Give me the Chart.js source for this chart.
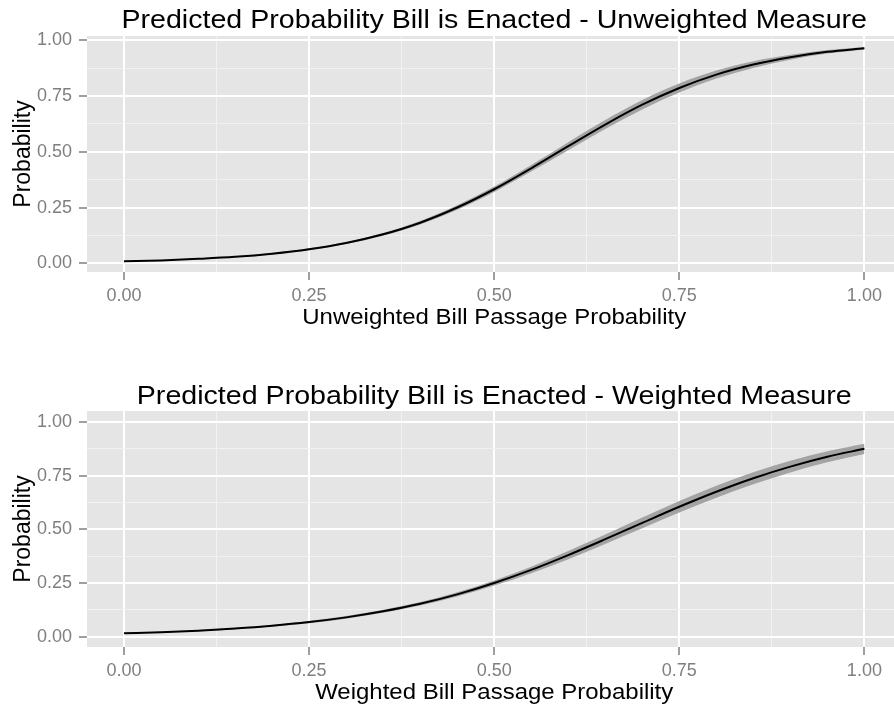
<!DOCTYPE html>
<html lang="en">
<head>
  <meta charset="UTF-8" />
  <title>Predicted Probability Bill is Enacted</title>
  <script src="https://cdn.jsdelivr.net/npm/chart.js@4"></script>
  <style>
    body { margin: 0; background: #fff; width: 894px; height: 708px; overflow: hidden; position: relative; }
    .panel { position: absolute; left: 0; width: 894px; height: 354px; }
  </style>
</head>
<body>
  <div class="panel" style="top:0"><canvas id="unweighted" width="894" height="354"></canvas></div>
  <div class="panel" style="top:354px"><canvas id="weighted" width="894" height="354"></canvas></div>

  <script>
    // bill passage probability (x) at which the fitted curves were read
    const xs = [0, 0.05, 0.1, 0.15, 0.2, 0.25, 0.3, 0.35, 0.4, 0.45, 0.5,
                0.55, 0.6, 0.65, 0.7, 0.75, 0.8, 0.85, 0.9, 0.95, 1];

    // unweighted measure: fit + confidence band
    const unweightedFit  = [0.009, 0.013, 0.020, 0.029, 0.043, 0.063, 0.091, 0.130, 0.182, 0.250, 0.332,
                            0.426, 0.525, 0.622, 0.711, 0.786, 0.846, 0.891, 0.924, 0.948, 0.964];
    const unweightedLow  = [0.008, 0.012, 0.018, 0.027, 0.040, 0.059, 0.086, 0.124, 0.174, 0.240, 0.320,
                            0.411, 0.507, 0.602, 0.690, 0.766, 0.828, 0.876, 0.913, 0.940, 0.958];
    const unweightedHigh = [0.010, 0.014, 0.022, 0.031, 0.046, 0.067, 0.096, 0.136, 0.190, 0.260, 0.344,
                            0.441, 0.543, 0.642, 0.732, 0.806, 0.864, 0.906, 0.935, 0.956, 0.970];

    // weighted measure: fit + confidence band
    const weightedFit  = [0.016, 0.021, 0.028, 0.038, 0.051, 0.068, 0.090, 0.118, 0.153, 0.197, 0.250,
                          0.311, 0.380, 0.454, 0.530, 0.605, 0.675, 0.738, 0.792, 0.838, 0.875];
    const weightedLow  = [0.014, 0.019, 0.025, 0.035, 0.047, 0.063, 0.084, 0.111, 0.145, 0.187, 0.238,
                          0.296, 0.361, 0.432, 0.505, 0.578, 0.647, 0.710, 0.765, 0.812, 0.851];
    const weightedHigh = [0.018, 0.023, 0.031, 0.041, 0.055, 0.073, 0.096, 0.125, 0.161, 0.207, 0.262,
                          0.326, 0.399, 0.476, 0.555, 0.632, 0.703, 0.766, 0.819, 0.864, 0.899];

    // major + minor grid positions, labels only on the majors
    const gridTicks = [0, 0.125, 0.25, 0.375, 0.5, 0.625, 0.75, 0.875, 1];
    const tickLabels = ['0.00', '0.25', '0.50', '0.75', '1.00'];

    const FONT = '"Liberation Sans", Arial, Helvetica, sans-serif';

    // the source image is a bit wider than tall, so titles get a small horizontal stretch
    function stretchedText(ctx, text, x, y, sx) {
      ctx.save();
      ctx.translate(x, y);
      ctx.scale(sx, 1);
      ctx.fillText(text, 0, 0);
      ctx.restore();
    }

    // grey panel background + ggplot-style titles
    const ggPanel = {
      id: 'ggPanel',
      beforeDraw(chart) {
        const { ctx, chartArea: a } = chart;
        ctx.save();
        ctx.fillStyle = '#e5e5e5';
        ctx.fillRect(a.left, a.top, a.right - a.left, a.bottom - a.top);
        ctx.restore();
      },
      afterDraw(chart, args, opts) {
        const { ctx, chartArea: a, scales } = chart;
        const cx = scales.x.getPixelForValue(0.5);
        ctx.save();
        ctx.fillStyle = '#000';
        ctx.textAlign = 'center';
        ctx.textBaseline = 'alphabetic';
        ctx.font = '26px ' + FONT;
        stretchedText(ctx, opts.title, cx, opts.titleY, 1.1);
        ctx.font = '22px ' + FONT;
        stretchedText(ctx, opts.xTitle, cx, opts.xTitleY, 1.09);
        ctx.translate(opts.yTitleX, (a.top + a.bottom) / 2);
        ctx.rotate(-Math.PI / 2);
        ctx.font = '23px ' + FONT;
        ctx.fillText('Probability', 0, 0);
        ctx.restore();
      }
    };

    function gridColor(c) { return c.index % 2 === 0 ? '#ffffff' : '#f2f2f2'; }
    function gridWidth(c) { return c.index % 2 === 0 ? 2 : 1; }
    function tickColor(c) { return c.index % 2 === 0 ? '#7f7f7f' : 'rgba(0,0,0,0)'; }
    function tickLabel(value, index) { return index % 2 === 0 ? tickLabels[index / 2] : ''; }

    function axis(min, max, extra) {
      return Object.assign({
        type: 'linear',
        min: min,
        max: max,
        afterBuildTicks: s => { s.ticks = gridTicks.map(v => ({ value: v })); },
        border: { display: false },
        grid: { color: gridColor, lineWidth: gridWidth, tickColor: tickColor, tickWidth: 1.5, tickLength: 8 },
        ticks: { autoSkip: false, maxRotation: 0, color: '#7f7f7f', font: { family: FONT, size: 18 }, callback: tickLabel }
      }, extra);
    }

    function buildChart(id, fit, low, high, cfg) {
      const pts = arr => xs.map((x, i) => ({ x: x, y: arr[i] }));
      const xAxis = axis(-0.05, 1.04, { afterFit: s => { s.height = cfg.xAxisHeight; } });
      xAxis.ticks.padding = 5;
      const yAxis = axis(cfg.yMin, cfg.yMax, { afterFit: s => { s.width = 87; } });
      yAxis.ticks.padding = 7;

      return new Chart(document.getElementById(id), {
        type: 'line',
        data: {
          datasets: [
            { data: pts(fit), borderColor: '#000', borderWidth: 2, pointRadius: 0, fill: false, cubicInterpolationMode: 'monotone' },
            { data: pts(low), borderWidth: 0, borderColor: 'rgba(0,0,0,0)', pointRadius: 0, fill: false, cubicInterpolationMode: 'monotone' },
            { data: pts(high), borderWidth: 0, borderColor: 'rgba(0,0,0,0)', pointRadius: 0, fill: '-1',
              backgroundColor: '#a4a4a4', cubicInterpolationMode: 'monotone' }
          ]
        },
        options: {
          responsive: false,
          animation: false,
          devicePixelRatio: 1,
          layout: { padding: { top: cfg.padTop, left: 0, right: 0, bottom: 0 } },
          scales: { x: xAxis, y: yAxis },
          plugins: {
            legend: { display: false },
            tooltip: { enabled: false },
            ggPanel: { title: cfg.title, xTitle: cfg.xTitle, titleY: cfg.titleY, xTitleY: cfg.xTitleY, yTitleX: 29.5 }
          }
        },
        plugins: [ggPanel]
      });
    }

    window.addEventListener('DOMContentLoaded', () => {
      buildChart('unweighted', unweightedFit, unweightedLow, unweightedHigh, {
        title: 'Predicted Probability Bill is Enacted - Unweighted Measure',
        xTitle: 'Unweighted Bill Passage Probability',
        yMin: -0.039, yMax: 1.019, padTop: 36, xAxisHeight: 82, titleY: 27.5, xTitleY: 324
      });
      buildChart('weighted', weightedFit, weightedLow, weightedHigh, {
        title: 'Predicted Probability Bill is Enacted - Weighted Measure',
        xTitle: 'Weighted Bill Passage Probability',
        yMin: -0.048, yMax: 1.051, padTop: 57, xAxisHeight: 61, titleY: 49.5, xTitleY: 345
      });
    });
  </script>
</body>
</html>
